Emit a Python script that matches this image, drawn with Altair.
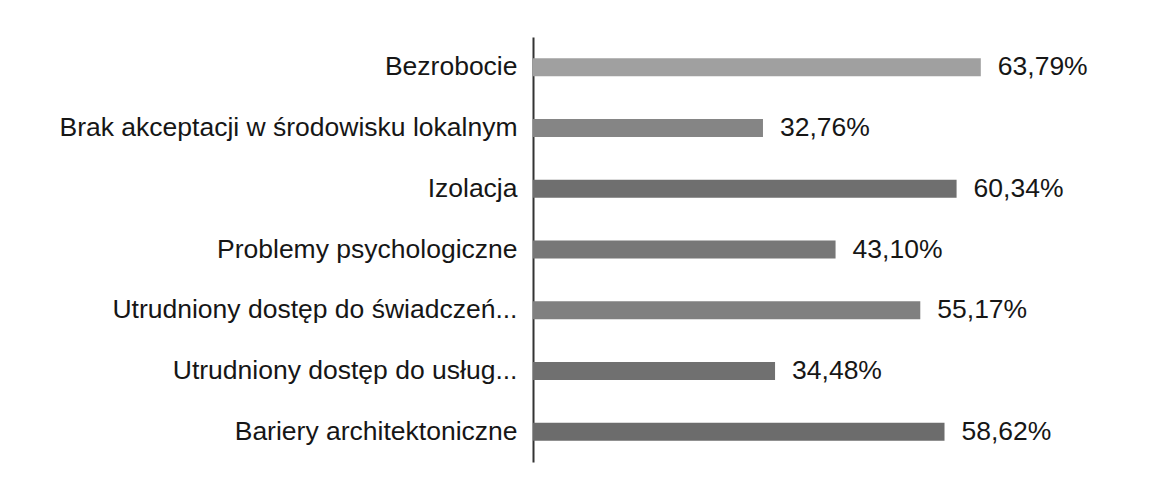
import altair as alt
import pandas as pd

categories = [
    "Bezrobocie",
    "Brak akceptacji w środowisku lokalnym",
    "Izolacja",
    "Problemy psychologiczne",
    "Utrudniony dostęp do świadczeń...",
    "Utrudniony dostęp do usług...",
    "Bariery architektoniczne",
]
values = [63.79, 32.76, 60.34, 43.10, 55.17, 34.48, 58.62]
value_labels = ["63,79%", "32,76%", "60,34%", "43,10%", "55,17%", "34,48%", "58,62%"]
bar_colors = ["#a0a0a0", "#858585", "#6f6f6f", "#777777", "#808080", "#707070", "#6c6c6c"]

df = pd.DataFrame({
    "kategoria": categories,
    "wartosc": values,
    "etykieta": value_labels,
    "kolor": bar_colors,
})

FONT = "Liberation Sans"
FS = 26.5

y_enc = alt.Y(
    "kategoria:N",
    sort=categories,
    scale=alt.Scale(paddingInner=0, paddingOuter=0),
    axis=alt.Axis(
        title=None,
        labelFont=FONT,
        labelFontSize=FS,
        labelColor="#161616",
        labelPadding=16,
        labelLimit=600,
        ticks=False,
        grid=False,
        domainColor="#333333",
        domainWidth=2,
    ),
)
x_enc = alt.X("wartosc:Q", scale=alt.Scale(domain=[0, 85.47]), axis=None)

bars = alt.Chart(df).mark_bar(size=18).encode(
    y=y_enc,
    x=x_enc,
    color=alt.Color("kolor:N", scale=None),
)

texts = alt.Chart(df).mark_text(
    align="left", baseline="middle", dx=17, fontSize=FS, font=FONT, color="#161616"
).encode(
    y=alt.Y("kategoria:N", sort=categories),
    x=x_enc,
    text="etykieta:N",
)

chart = (
    alt.layer(bars, texts)
    .properties(
        width=600,
        height=425,
        background="white",
        autosize=alt.AutoSizeParams(type="none"),
        padding={"left": 525, "top": 29, "right": 10, "bottom": 9},
    )
    .configure_view(stroke="transparent", strokeWidth=0)
)

chart.save("out.html", embed_options={"renderer": "svg", "actions": False})
